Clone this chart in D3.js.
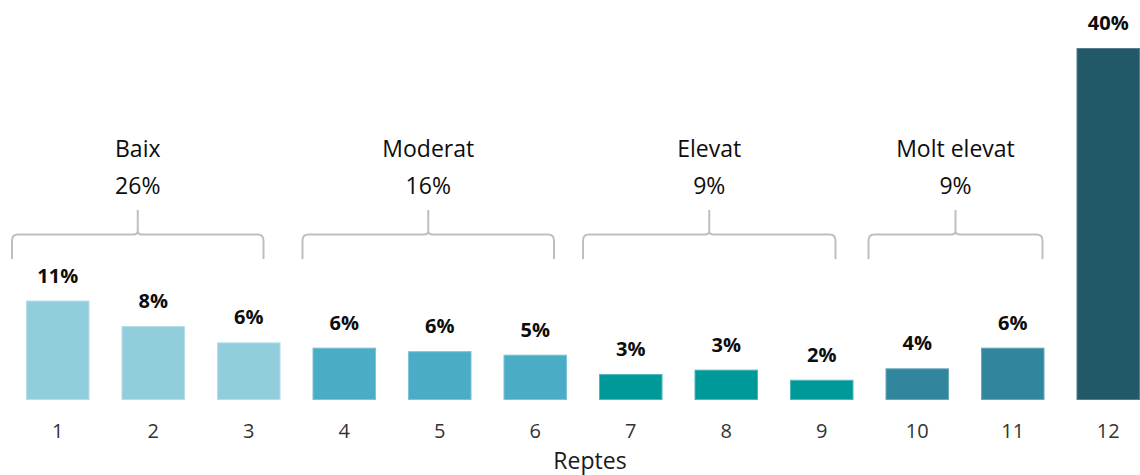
<!DOCTYPE html>
<html>
<head>
<meta charset="utf-8">
<script src="https://cdn.jsdelivr.net/npm/d3@7"></script>
<style>
  html, body { margin: 0; padding: 0; background: #fff; }
  svg { display: block; font-family: "Open Sans", "Noto Sans", sans-serif; }
</style>
</head>
<body>
<svg id="chart" width="1140" height="475"></svg>
<script>
// ---- data ----
const categories = ["1","2","3","4","5","6","7","8","9","10","11","12"];
const values = [11.3, 8.4, 6.55, 5.95, 5.55, 5.15, 2.95, 3.45, 2.3, 3.6, 5.95, 40.0];
const valueLabels = ["11%","8%","6%","6%","6%","5%","3%","3%","2%","4%","6%","40%"];
const barGroups = [0,0,0,1,1,1,2,2,2,3,3,4];
const groupNames = ["Baix","Moderat","Elevat","Molt elevat"];
const groupTotals = ["26%","16%","9%","9%"];
const groupFirst = ["1","4","7","10"];
const groupLast = ["3","6","9","11"];
const xTitle = "Reptes";

// ---- style / layout ----
const colors = ["#92CDDC","#4BACC6","#009999","#31859C","#215968"];
const strokes = ["#B4DEE8","#7CC4D7","#4DB8B8","#6AA9BA","#557F8A"];
const braceInsetL = [14, 10, 16, 17];
const braceInsetR = [17, 13, 18, 2];

const svg = d3.select("#chart");
const baseline = 400, topY = 48;

const x = d3.scaleBand()
  .domain(categories)
  .range([10, 1156])
  .paddingInner(0.335)
  .paddingOuter(0.1675);

const y = d3.scaleLinear().domain([0, 40]).range([baseline, topY]);

// bars
svg.append("g").selectAll("rect")
  .data(values)
  .join("rect")
  .attr("x", (d, i) => x(categories[i]) + 0.5)
  .attr("y", d => y(d) + 0.5)
  .attr("width", x.bandwidth() - 1)
  .attr("height", d => baseline - y(d) - 1)
  .attr("fill", (d, i) => colors[barGroups[i]])
  .attr("stroke", (d, i) => strokes[barGroups[i]])
  .attr("stroke-width", 1);

// value labels
svg.append("g").selectAll("text")
  .data(values)
  .join("text")
  .attr("x", (d, i) => x(categories[i]) + x.bandwidth() / 2)
  .attr("y", d => y(d) - 18)
  .attr("text-anchor", "middle")
  .attr("font-size", 20)
  .attr("font-weight", "bold")
  .attr("fill", "#0d0d0d")
  .text((d, i) => valueLabels[i]);

// x axis tick labels
const xAxis = d3.axisBottom(x).tickSize(0).tickPadding(0);
const gx = svg.append("g").attr("transform", `translate(0,${baseline})`).call(xAxis);
gx.select(".domain").remove();
gx.selectAll(".tick text")
  .attr("dy", 0)
  .attr("y", 38)
  .attr("font-size", 20)
  .attr("font-family", "\"Open Sans\", sans-serif")
  .attr("fill", "#333333");

// axis title
svg.append("text")
  .attr("x", (x("7") + x("6") + x.bandwidth()) / 2 + 7)
  .attr("y", 469)
  .attr("text-anchor", "middle")
  .attr("font-size", 23)
  .attr("fill", "#1a1a1a")
  .text(xTitle);

// braces
const hY = 234.5, tipTop = 210, bottomY = 259, r = 6, tr = 4;
const braceG = svg.append("g");
groupNames.forEach((name, g) => {
  const L = x(groupFirst[g]) - braceInsetL[g];
  const R = x(groupLast[g]) + x.bandwidth() - braceInsetR[g];
  const tip = (L + R) / 2;
  const p = d3.path();
  p.moveTo(L, bottomY);
  p.lineTo(L, hY + r);
  p.quadraticCurveTo(L, hY, L + r, hY);
  p.lineTo(tip - tr, hY);
  p.quadraticCurveTo(tip, hY, tip, hY - tr);
  p.lineTo(tip, tipTop);
  p.moveTo(tip, hY - tr);
  p.quadraticCurveTo(tip, hY, tip + tr, hY);
  p.lineTo(R - r, hY);
  p.quadraticCurveTo(R, hY, R, hY + r);
  p.lineTo(R, bottomY);
  braceG.append("path")
    .attr("d", p.toString())
    .attr("fill", "none")
    .attr("stroke", "#BFBFBF")
    .attr("stroke-width", 2);
  braceG.append("text")
    .attr("x", tip)
    .attr("y", 157)
    .attr("text-anchor", "middle")
    .attr("font-size", 23)
    .attr("fill", "#0d0d0d")
    .text(name);
  braceG.append("text")
    .attr("x", tip)
    .attr("y", 194)
    .attr("text-anchor", "middle")
    .attr("font-size", 23)
    .attr("fill", "#0d0d0d")
    .text(groupTotals[g]);
});
</script>
</body>
</html>
